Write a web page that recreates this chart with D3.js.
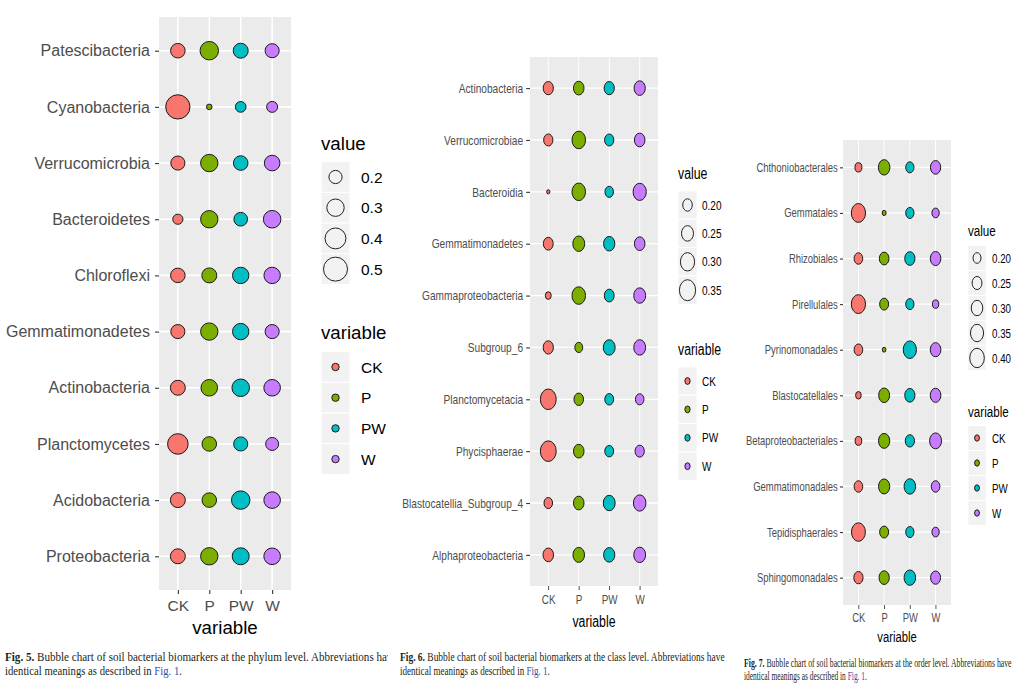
<!DOCTYPE html>
<html lang="en">
<head>
<meta charset="UTF-8">
<title>Bubble charts of soil bacterial biomarkers</title>
<script src="https://d3js.org/d3.v7.min.js"></script>
<style>
  body { margin: 0; background: #fff; }
  svg { display: block; }
  text { font-family: "Liberation Sans", Arial, sans-serif; }
  .caption text { font-family: "Liberation Serif", "Times New Roman", serif; }
</style>
</head>
<body>
<svg id="fig" width="1020" height="697"></svg>
<script>
// treatments shared by all three charts
const treatments = ["CK", "P", "PW", "W"];
const treatmentColors = ["#F8766D", "#7CAE00", "#00BFC4", "#C77CFF"];

// Fig. 5, phylum level (top to bottom)
const phylumTaxa = ["Patescibacteria", "Cyanobacteria", "Verrucomicrobia", "Bacteroidetes", "Chloroflexi",
  "Gemmatimonadetes", "Actinobacteria", "Planctomycetes", "Acidobacteria", "Proteobacteria"];
const phylumCK = [0.23, 0.51, 0.22, 0.14, 0.23, 0.22, 0.24, 0.39, 0.24, 0.24];
const phylumP  = [0.33, 0.07, 0.30, 0.30, 0.24, 0.30, 0.28, 0.23, 0.23, 0.30];
const phylumPW = [0.24, 0.15, 0.23, 0.21, 0.275, 0.275, 0.305, 0.22, 0.33, 0.29];
const phylumW  = [0.22, 0.155, 0.255, 0.305, 0.275, 0.22, 0.28, 0.195, 0.28, 0.28];
const phylumSizeTicks = [0.2, 0.3, 0.4, 0.5];

// Fig. 6, class level
const classTaxa = ["Actinobacteria", "Verrucomicrobiae", "Bacteroidia", "Gemmatimonadetes", "Gammaproteobacteria",
  "Subgroup_6", "Planctomycetacia", "Phycisphaerae", "Blastocatellia_Subgroup_4", "Alphaproteobacteria"];
const classCK = [0.213, 0.194, 0.096, 0.206, 0.135, 0.213, 0.342, 0.342, 0.181, 0.220];
const classP  = [0.220, 0.285, 0.285, 0.248, 0.285, 0.169, 0.200, 0.220, 0.220, 0.241];
const classPW = [0.213, 0.194, 0.181, 0.234, 0.206, 0.248, 0.187, 0.187, 0.248, 0.234];
const classW  = [0.234, 0.220, 0.278, 0.220, 0.248, 0.248, 0.181, 0.194, 0.262, 0.248];
const classSizeTicks = [0.20, 0.25, 0.30, 0.35];

// Fig. 7, order level
const orderTaxa = ["Chthoniobacterales", "Gemmatales", "Rhizobiales", "Pirellulales", "Pyrinomonadales",
  "Blastocatellales", "Betaproteobacteriales", "Gemmatimonadales", "Tepidisphaerales", "Sphingomonadales"];
const orderCK = [0.176, 0.388, 0.217, 0.388, 0.217, 0.146, 0.168, 0.217, 0.377, 0.234];
const orderP  = [0.301, 0.113, 0.244, 0.226, 0.107, 0.282, 0.291, 0.291, 0.226, 0.262];
const orderPW = [0.208, 0.208, 0.262, 0.208, 0.354, 0.262, 0.234, 0.301, 0.208, 0.301];
const orderW  = [0.262, 0.184, 0.272, 0.161, 0.272, 0.272, 0.312, 0.217, 0.184, 0.253];
const orderSizeTicks = [0.20, 0.25, 0.30, 0.35, 0.40];

const svg = d3.select("#fig");

// sx < 1 squeezes the panel sideways, like the scanned figures 6 and 7
function drawPanel(cfg) {
  const g = svg.append("g").attr("transform", `translate(${cfg.x0},0) scale(${cfg.sx},1)`);
  const w = cfg.width;

  const x = d3.scalePoint().domain(treatments).range([0, w]).padding(0.6);
  const y = d3.scalePoint().domain(cfg.taxa).range([cfg.top, cfg.bottom]).padding(0.6);
  const r = d3.scaleSqrt()
    .domain([cfg.sizeTicks[0], cfg.sizeTicks[cfg.sizeTicks.length - 1]])
    .range(cfg.radii);

  g.append("rect")
    .attr("x", 0).attr("y", cfg.top)
    .attr("width", w).attr("height", cfg.bottom - cfg.top)
    .attr("fill", "#EBEBEB");

  g.selectAll(".hgrid").data(cfg.taxa).join("line")
    .attr("x1", 0).attr("x2", w)
    .attr("y1", d => y(d)).attr("y2", d => y(d))
    .attr("stroke", "#fff").attr("stroke-width", cfg.grid);
  g.selectAll(".vgrid").data(treatments).join("line")
    .attr("x1", d => x(d)).attr("x2", d => x(d))
    .attr("y1", cfg.top).attr("y2", cfg.bottom)
    .attr("stroke", "#fff").attr("stroke-width", cfg.grid);

  const points = cfg.taxa.flatMap((taxon, i) =>
    treatments.map((t, j) => ({ taxon, treatment: t, value: cfg.series[j][i], color: treatmentColors[j] })));

  g.selectAll(".bubble").data(points).join("circle")
    .attr("cx", d => x(d.treatment))
    .attr("cy", d => y(d.taxon))
    .attr("r", d => r(d.value))
    .attr("fill", d => d.color)
    .attr("stroke", "#1a1a1a")
    .attr("stroke-width", 1)
    .attr("vector-effect", "non-scaling-stroke");

  // axes
  const yAxis = g.append("g")
    .call(d3.axisLeft(y).tickSize(cfg.yTick).tickPadding(cfg.yPad))
    .call(a => a.select(".domain").remove());
  const xAxis = g.append("g")
    .attr("transform", `translate(0,${cfg.bottom})`)
    .call(d3.axisBottom(x).tickSize(4).tickPadding(cfg.xPad))
    .call(a => a.select(".domain").remove());
  [yAxis, xAxis].forEach(a => {
    a.attr("font-family", null);
    a.selectAll("line").attr("stroke", "#333").attr("stroke-width", 1.1);
    a.selectAll("text").attr("fill", "#4D4D4D");
  });
  yAxis.selectAll("text").attr("font-size", cfg.yFont);
  xAxis.selectAll("text").attr("font-size", cfg.xFont);

  g.append("text")
    .attr("x", w / 2).attr("y", cfg.titleY)
    .attr("text-anchor", "middle")
    .attr("font-size", cfg.titleFont)
    .attr("fill", "#000")
    .text("variable");

  // legend: value
  const L = cfg.legend;
  g.append("text")
    .attr("x", L.x).attr("y", L.valueTitleY)
    .attr("font-size", cfg.legendTitleFont)
    .text("value");
  const sizeKeys = g.selectAll(".sizekey").data(cfg.sizeTicks).join("g")
    .attr("transform", (d, i) => `translate(${L.x},${L.valueY0 + i * L.step})`);
  sizeKeys.append("rect")
    .attr("x", 0).attr("y", -L.step / 2)
    .attr("width", L.keyW).attr("height", L.step)
    .attr("fill", "#F2F2F2").attr("stroke", "#fff").attr("stroke-width", 1);
  sizeKeys.append("circle")
    .attr("cx", L.keyW / 2).attr("cy", 0)
    .attr("r", d => r(d))
    .attr("fill", "none").attr("stroke", "#222").attr("stroke-width", 1)
    .attr("vector-effect", "non-scaling-stroke");
  sizeKeys.append("text")
    .attr("x", L.labelX - L.x).attr("y", 0).attr("dy", "0.36em")
    .attr("font-size", cfg.legendFont)
    .text(d => cfg.fmt(d));

  // legend: variable
  g.append("text")
    .attr("x", L.x).attr("y", L.varTitleY)
    .attr("font-size", cfg.legendTitleFont)
    .text("variable");
  const colKeys = g.selectAll(".colkey").data(treatments).join("g")
    .attr("transform", (d, i) => `translate(${L.x},${L.varY0 + i * L.step})`);
  colKeys.append("rect")
    .attr("x", 0).attr("y", -L.step / 2)
    .attr("width", L.keyW).attr("height", L.step)
    .attr("fill", "#F2F2F2").attr("stroke", "#fff").attr("stroke-width", 1);
  colKeys.append("circle")
    .attr("cx", L.keyW / 2).attr("cy", 0)
    .attr("r", L.dot)
    .attr("fill", (d, i) => treatmentColors[i])
    .attr("stroke", "#1a1a1a").attr("stroke-width", 1)
    .attr("vector-effect", "non-scaling-stroke");
  colKeys.append("text")
    .attr("x", L.labelX - L.x).attr("y", 0).attr("dy", "0.36em")
    .attr("font-size", cfg.legendFont)
    .text(d => d);
}

drawPanel({
  taxa: phylumTaxa, series: [phylumCK, phylumP, phylumPW, phylumW], sizeTicks: phylumSizeTicks,
  x0: 159, sx: 1, width: 132, top: 17, bottom: 590, radii: [6.6, 12.0], grid: 1.6,
  yTick: 4, yPad: 5, xPad: 6, yFont: 16, xFont: 15.5, titleFont: 18.7, titleY: 634,
  legendTitleFont: 18.7, legendFont: 15.5, fmt: d3.format(".1f"),
  legend: { x: 162, keyW: 29, step: 30.7, labelX: 202, valueTitleY: 150, valueY0: 177, varTitleY: 339, varY0: 367, dot: 3.7 }
});

drawPanel({
  taxa: classTaxa, series: [classCK, classP, classPW, classW], sizeTicks: classSizeTicks,
  x0: 530, sx: 0.77, width: 166.2, top: 57, bottom: 586, radii: [6.2, 10.5], grid: 1.3,
  yTick: 5, yPad: 4, xPad: 4.5, yFont: 13.2, xFont: 12.8, titleFont: 16, titleY: 627,
  legendTitleFont: 16, legendFont: 13, fmt: d3.format(".2f"),
  legend: { x: 192.2, keyW: 24.7, step: 28.4, labelX: 223.4, valueTitleY: 179, valueY0: 205, varTitleY: 355, varY0: 381, dot: 3.4 }
});

drawPanel({
  taxa: orderTaxa, series: [orderCK, orderP, orderPW, orderW], sizeTicks: orderSizeTicks,
  x0: 843, sx: 0.75, width: 144, top: 140, bottom: 605, radii: [5.3, 9.7], grid: 1.2,
  yTick: 4, yPad: 3, xPad: 4.6, yFont: 12.6, xFont: 12.5, titleFont: 15, titleY: 642.5,
  legendTitleFont: 15.5, legendFont: 13, fmt: d3.format(".2f"),
  legend: { x: 166.7, keyW: 24, step: 25, labelX: 198.7, valueTitleY: 236, valueY0: 258, varTitleY: 417, varY0: 438, dot: 3.2 }
});

// captions
const captions = svg.append("g").attr("class", "caption");
svg.append("clipPath").attr("id", "clip5")
  .append("rect").attr("x", 0).attr("y", 640).attr("width", 388).attr("height", 50);

function captionLine(parent, x, y, size, parts, width) {
  const t = parent.append("text").attr("font-size", size).attr("fill", "#231F20");
  parts.forEach(p => {
    t.append("tspan")
      .attr("font-weight", p.bold ? "bold" : null)
      .attr("fill", p.link ? "#3A49A6" : null)
      .text(p.text);
  });
  const s = width / t.node().getComputedTextLength();
  t.attr("transform", `translate(${x},${y}) scale(${s},1)`);
  return t;
}

function caption(figNo, level, x, y1, y2, size, width1, width2, clip) {
  const g = captions.append("g");
  if (clip) g.attr("clip-path", `url(#${clip})`);
  captionLine(g, x, y1, size,
    [{ text: `Fig. ${figNo}.`, bold: true },
     { text: ` Bubble chart of soil bacterial biomarkers at the ${level} level. Abbreviations have` }], width1);
  captionLine(g, x, y2, size,
    [{ text: "identical meanings as described in " }, { text: "Fig. 1", link: true }, { text: "." }], width2);
}

caption(5, "phylum", 5, 661, 675, 12.5, 393, 177, "clip5");
caption(6, "class", 400, 661, 675, 12.5, 325, 150, null);
caption(7, "order", 744, 667, 679.5, 11.5, 268, 123, null);
</script>
</body>
</html>
